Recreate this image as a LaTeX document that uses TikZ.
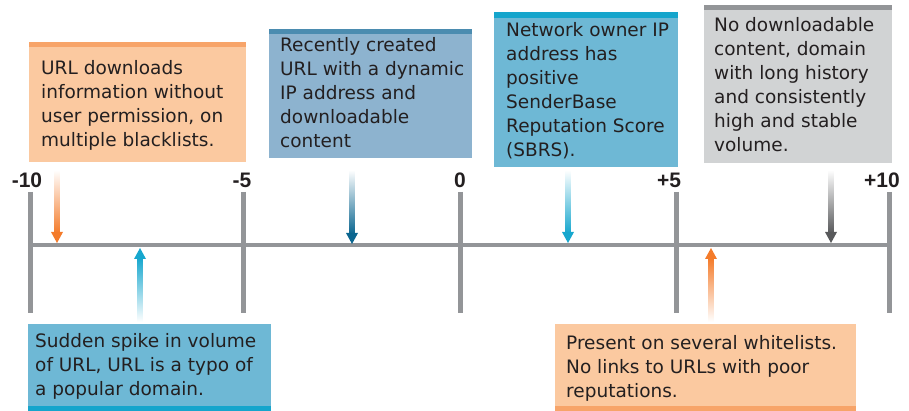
\documentclass[tikz,border=0pt]{standalone}
\usepackage{fontspec}
\setmainfont{DejaVu Sans}
\newfontfamily\lblfont{Liberation Sans}
\definecolor{orfill}{HTML}{FBC9A0}
\definecolor{orbar}{HTML}{F7A469}
\definecolor{orarr}{HTML}{F47B2A}
\definecolor{bgfill}{HTML}{8DB3CF}
\definecolor{bgbar}{HTML}{4B8CB0}
\definecolor{bgarr}{HTML}{0B6690}
\definecolor{cyfill}{HTML}{6EB8D5}
\definecolor{cybar}{HTML}{15A5CC}
\definecolor{cyarr}{HTML}{17A7CE}
\definecolor{gyfill}{HTML}{D1D3D4}
\definecolor{gybar}{HTML}{939598}
\definecolor{gyarr}{HTML}{58595B}
\definecolor{axisgray}{HTML}{939598}
\definecolor{txt}{HTML}{231F20}
\newcommand\gradarrdown[4]{% x, ystart, ytip, color
  \shade[top color=white, bottom color=#4] (#1-2.5,#2) rectangle (#1+2.5,#3-10);
  \fill[#4] (#1-6,#3-11) -- (#1+6,#3-11) -- (#1,#3) -- cycle;}
\newcommand\gradarrup[4]{% x, ystart, ytip, color
  \shade[bottom color=white, top color=#4] (#1-2.5,#2) rectangle (#1+2.5,#3+10);
  \fill[#4] (#1-6,#3+11) -- (#1+6,#3+11) -- (#1,#3) -- cycle;}
\begin{document}
\begin{tikzpicture}[x=1pt,y=-1pt,
  boxtext/.style={anchor=base west, inner sep=0pt, align=left, text=txt,
    font=\fontsize{18.5}{24}\selectfont},
  ticklbl/.style={anchor=base, inner sep=0pt, text=txt,
    font=\lblfont\bfseries\fontsize{21}{21}\selectfont},
  tickline/.style={draw=axisgray, line width=5pt},
  axisline/.style={draw=axisgray, line width=4pt}]
\useasboundingbox (0,0) rectangle (909,411);
% axis
\coordinate (aL) at (28,245);
\coordinate (aR) at (891,245);
\draw[axisline] (aL) -- (aR);
\foreach \x/\n in {30/m10,243/m5,460/z,676/p5,889/p10}{
  \coordinate (\n t) at (\x,192);
  \coordinate (\n b) at (\x,313);
  \draw[tickline] (\n t) -- (\n b);
}
\node[ticklbl] (l1) at (27,188) {-10};
\node[ticklbl] (l2) at (242,188) {-5};
\node[ticklbl] (l3) at (460,188) {0};
\node[ticklbl] (l4) at (669,188) {+5};
\node[ticklbl] (l5) at (882,188) {+10};
% box 1
\fill[orfill] (29,42) rectangle (246,162);
\fill[orbar] (29,42) rectangle (246,47);
\node[boxtext] (t1) at (41,147) {URL downloads\\information without\\user permission, on\\multiple blacklists.};
% box 2
\fill[bgfill] (269,29) rectangle (472,158);
\fill[bgbar] (269,29) rectangle (472,34);
\node[boxtext] (t2) at (280,148) {Recently created\\URL with a dynamic\\IP address and\\downloadable\\content};
% box 3
\fill[cyfill] (494,12) rectangle (678,167);
\fill[cybar] (494,12) rectangle (678,18);
\node[boxtext] (t3) at (506,157) {Network owner IP\\address has\\positive\\SenderBase\\Reputation Score\\(SBRS).};
% box 4
\fill[gyfill] (704,5) rectangle (892,163);
\fill[gybar] (704,5) rectangle (892,10);
\node[boxtext] (t4) at (714,152) {No downloadable\\content, domain\\with long history\\and consistently\\high and stable\\volume.};
% box 5
\fill[cyfill] (28,324) rectangle (271,411);
\fill[cybar] (28,406) rectangle (271,411);
\node[boxtext] (t5) at (35,395) {Sudden spike in volume\\of URL, URL is a typo of\\a popular domain.};
% box 6
\fill[orfill] (555,324) rectangle (856,411);
\fill[orbar] (555,406) rectangle (856,411);
\node[boxtext] (t6) at (566,397) {Present on several whitelists.\\No links to URLs with poor\\reputations.};
% arrows
\gradarrdown{57}{170}{243}{orarr}
\gradarrdown{352}{170}{244}{bgarr}
\gradarrdown{568}{170}{243}{cyarr}
\gradarrdown{831}{170}{243}{gyarr}
\gradarrup{140}{322}{248}{cyarr}
\gradarrup{711}{322}{248}{orarr}
\end{tikzpicture}
\end{document}
